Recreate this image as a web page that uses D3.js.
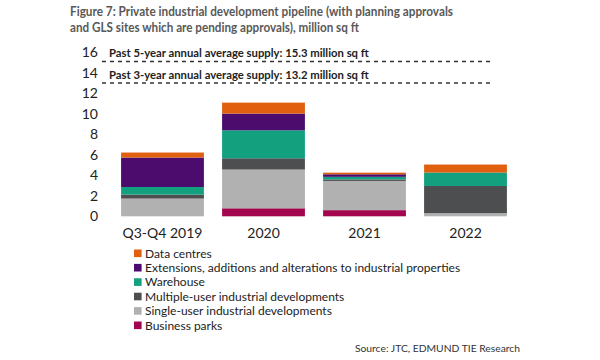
<!DOCTYPE html>
<html><head><meta charset="utf-8">
<script src="https://cdn.jsdelivr.net/npm/d3@7"></script>
<style>body{margin:0;background:#fff}svg{display:block}</style>
</head><body>
<svg id="c" width="600" height="360"></svg>
<script>
const categories = ["Q3-Q4 2019", "2020", "2021", "2022"];
const seriesNames = ["Business parks", "Single-user industrial developments", "Multiple-user industrial developments", "Warehouse", "Extensions, additions and alterations to industrial properties", "Data centres"];
const businessParks = [0, 0.78, 0.6, 0];
const singleUser = [1.73, 3.78, 2.85, 0.3];
const multipleUser = [0.39, 1.1, 0.15, 2.66];
const warehouse = [0.74, 2.73, 0.25, 1.31];
const extensions = [2.87, 1.63, 0.25, 0];
const dataCentres = [0.49, 1.07, 0.16, 0.78];
const colors = ["#A3054F", "#B0B1B0", "#4D4E50", "#12A07E", "#4B0C6E", "#E0600F"];
const yTicks = [0, 2, 4, 6, 8, 10, 12, 14, 16];
const refValues = [15.3, 13.2];
const refLabels = ["Past 5-year annual average supply: 15.3 million sq ft", "Past 3-year annual average supply: 13.2 million sq ft"];
const legendOrder = [5, 4, 3, 2, 1, 0];
const titleLines = ["Figure 7: Private industrial development pipeline (with planning approvals", "and GLS sites which are pending approvals), million sq ft"];
const source = "Source: JTC, EDMUND TIE Research";

const font = "Lato, 'Open Sans', sans-serif";
const svg = d3.select("#c");
const seriesVals = [businessParks, singleUser, multipleUser, warehouse, extensions, dataCentres];
const rows = categories.map((c, i) => {
  const o = {cat: c};
  seriesNames.forEach((s, k) => o[s] = seriesVals[k][i]);
  return o;
});
const stack = d3.stack().keys(seriesNames)(rows);

const x = d3.scaleBand().domain(categories).range([112, 516]).paddingInner(0.18).paddingOuter(0.09);
const y = d3.scaleLinear().domain([0, 16]).range([216.3, 52.3]);

// title
const titleWidths = [383, 289];
svg.append("g").selectAll("text").data(titleLines).join("text")
  .attr("x", 70).attr("y", (d, i) => 15.5 + i * 16)
  .attr("font-family", font).attr("font-weight", 700).attr("font-size", 13)
  .attr("textLength", (d, i) => titleWidths[i]).attr("lengthAdjust", "spacingAndGlyphs")
  .attr("fill", "#595959").text(d => d);

// y axis
const yAxis = d3.axisLeft(y).tickValues(yTicks).tickSize(0).tickPadding(0);
const gy = svg.append("g").attr("transform", "translate(98,0)").call(yAxis);
gy.select(".domain").remove();
gy.selectAll("text").attr("font-family", font).attr("font-size", 14).attr("fill", "#222");

// bars
svg.append("g").selectAll("g").data(stack).join("g")
  .attr("fill", (d, i) => colors[i])
  .selectAll("rect").data(d => d).join("rect")
  .attr("x", d => x(d.data.cat))
  .attr("width", x.bandwidth())
  .attr("y", d => y(d[1]))
  .attr("height", d => y(d[0]) - y(d[1]));

// x axis
const xAxis = d3.axisBottom(x).tickSize(0).tickPadding(0);
const gx = svg.append("g").attr("transform", "translate(0,228)").call(xAxis);
gx.select(".domain").remove();
gx.selectAll("text").attr("font-family", font).attr("font-size", 14).attr("fill", "#222").attr("dy", "0.71em");

// reference lines
const ref = svg.append("g");
refValues.forEach((v, i) => {
  ref.append("line").attr("x1", 102).attr("x2", 494)
    .attr("y1", y(v) + 2).attr("y2", y(v) + 2)
    .attr("stroke", "#333").attr("stroke-width", 1.4).attr("stroke-dasharray", "4,4");
  ref.append("text").attr("x", 109).attr("y", y(v) - 2)
    .attr("font-family", font).attr("font-weight", 700).attr("font-size", 11.3)
    .attr("fill", "#222").text(refLabels[i]);
});

// legend
const lg = svg.append("g");
legendOrder.forEach((k, i) => {
  const cy = 253.3 + i * 14.4;
  lg.append("rect").attr("x", 134).attr("y", cy - 3.8).attr("width", 7.6).attr("height", 7.6).attr("fill", colors[k]);
  lg.append("text").attr("x", 145).attr("y", cy).attr("dy", "0.35em")
    .attr("font-family", font).attr("font-size", 12).attr("fill", "#222").text(seriesNames[k]);
});

// source
svg.append("text").attr("x", 520).attr("y", 352).attr("text-anchor", "end")
  .attr("font-family", font).attr("font-size", 10.3).attr("fill", "#333").text(source);
</script>
</body></html>
